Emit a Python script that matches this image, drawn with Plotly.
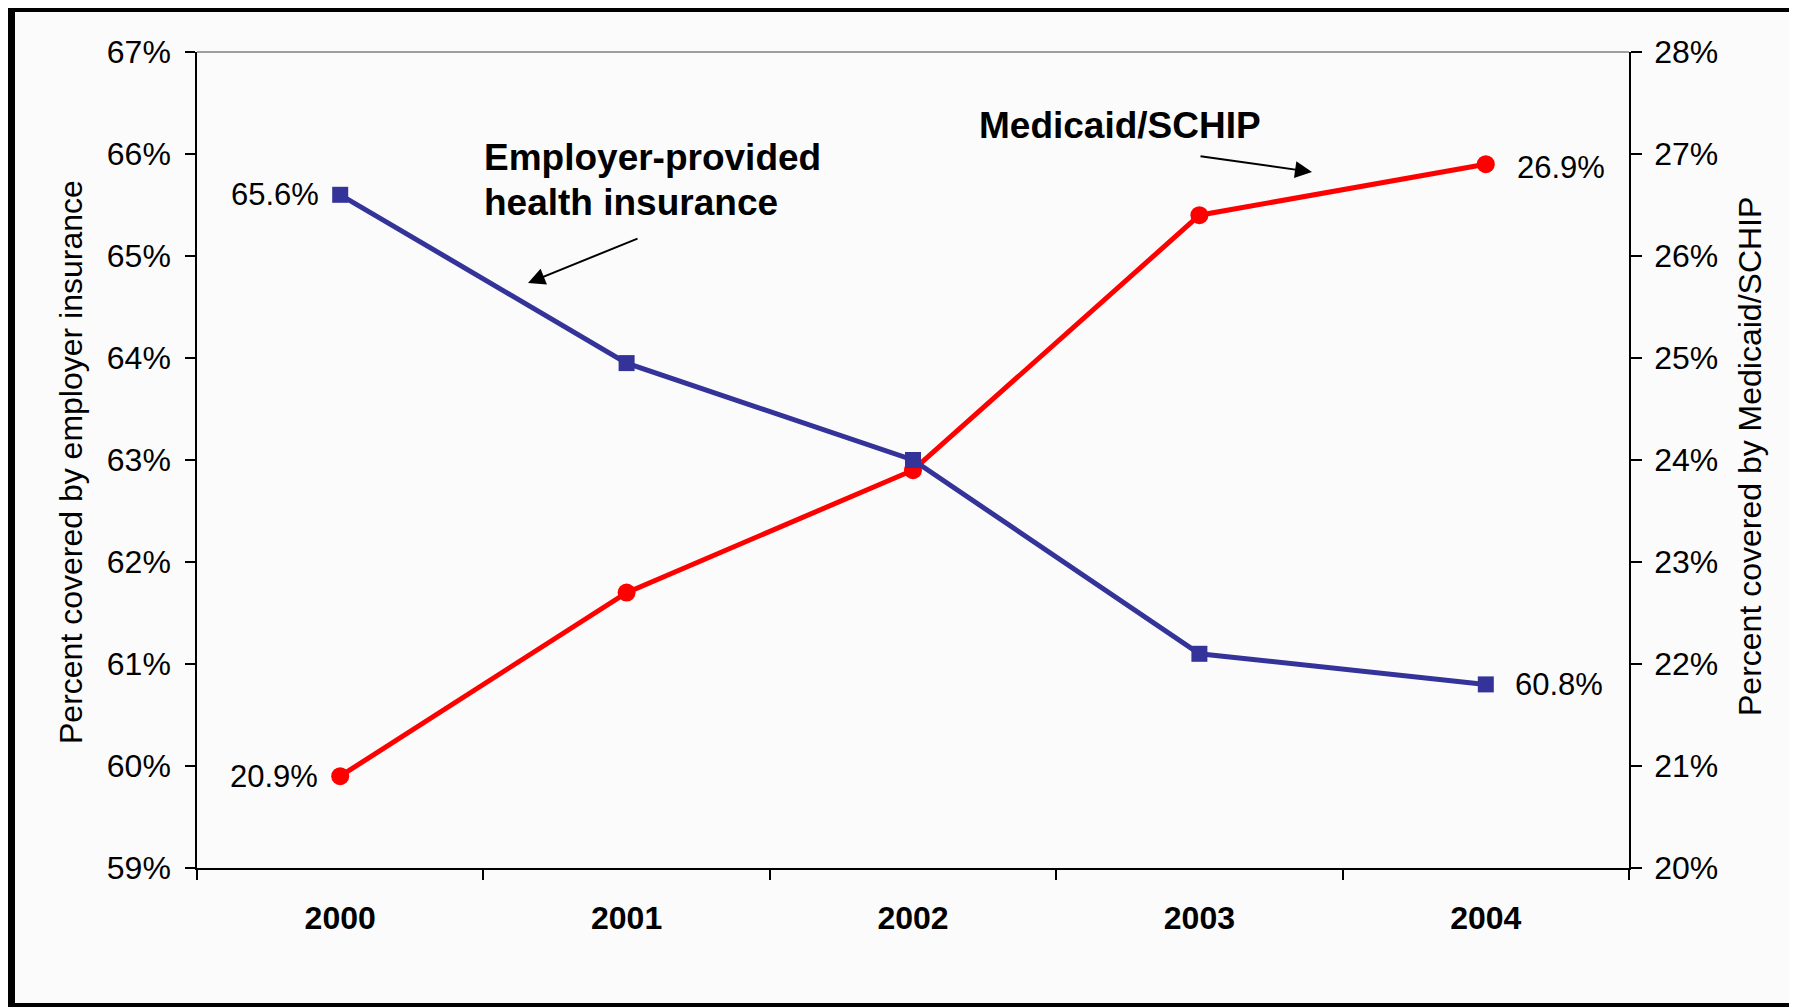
import plotly.graph_objects as go

years = ["2000", "2001", "2002", "2003", "2004"]
employer = [65.6, 63.95, 63.0, 61.1, 60.8]
medicaid = [20.9, 22.7, 23.9, 26.4, 26.9]
left_ticks = [59, 60, 61, 62, 63, 64, 65, 66, 67]
right_ticks = [20, 21, 22, 23, 24, 25, 26, 27, 28]

# the page body has an 8px margin, so the figure is sized to fit the window
OFF = 8
W, H = 1797 - OFF, 1007 - OFF
PW, PH = 1432, 816
L, T = 197 - OFF, 52 - OFF
R, B = W - L - PW, H - T - PH


def px(x):  # page pixel -> paper x
    return (x - OFF - L) / PW


def py(y):  # page pixel -> paper y
    return (H - B - (y - OFF)) / PH


FONT = "Liberation Sans, Arial, sans-serif"
BLUE = "#333399"
RED = "#FF0000"
BG = "#FBFBFB"

fig = go.Figure()

fig.add_trace(go.Scatter(
    x=years, y=medicaid, yaxis="y", mode="lines+markers",
    line=dict(color=RED, width=5),
    marker=dict(symbol="circle", size=18, color=RED),
    showlegend=False, hoverinfo="skip"))

fig.add_trace(go.Scatter(
    x=years, y=employer, yaxis="y2", mode="lines+markers",
    line=dict(color=BLUE, width=5),
    marker=dict(symbol="square", size=16, color=BLUE),
    showlegend=False, hoverinfo="skip"))

tickfont = dict(family=FONT, size=32, color="black")

fig.update_layout(
    width=W, height=H,
    margin=dict(l=L, r=R, t=T, b=B, pad=0),
    paper_bgcolor=BG, plot_bgcolor=BG,
    font=dict(family=FONT, color="black"),
    xaxis=dict(
        type="category", range=[-0.5, 4.5], tickson="boundaries",
        ticks="outside", ticklen=10, tickwidth=1.5, tickcolor="black",
        showline=True, linecolor="black", linewidth=1.5,
        showgrid=False, zeroline=False,
        tickfont=dict(family=FONT, size=32, color="black", weight="bold"),
        ticklabelstandoff=21,
    ),
    yaxis=dict(
        side="right", range=[20, 28], tickvals=right_ticks,
        ticktext=[f"{v}%" for v in right_ticks],
        ticks="outside", ticklen=11, tickwidth=1.5, tickcolor="black",
        showline=True, linecolor="black", linewidth=1.5,
        showgrid=False, zeroline=False, tickfont=tickfont,
        ticklabelstandoff=6,
    ),
    yaxis2=dict(
        side="left", overlaying="y", range=[59, 67], tickvals=left_ticks,
        ticktext=[f"{v}%" for v in left_ticks],
        ticks="outside", ticklen=10, tickwidth=1.5, tickcolor="black",
        showline=True, linecolor="black", linewidth=1.5,
        showgrid=False, zeroline=False, tickfont=tickfont,
        ticklabelstandoff=8,
    ),
    yaxis3=dict(
        side="right", overlaying="y", range=[20, 28], tickvals=right_ticks,
        ticks="inside", ticklen=10, tickwidth=1.5, tickcolor="black",
        showticklabels=False, showline=False, showgrid=False, zeroline=False,
    ),
)

shapes = [
    # top border of plot area (gray)
    dict(type="line", xref="paper", yref="paper", x0=0, x1=1, y0=1, y1=1,
         line=dict(color="#808080", width=1.5)),
    # outer frame
    dict(type="rect", xref="paper", yref="paper",
         x0=px(11), x1=px(1796), y0=py(1007), y1=py(8),
         line=dict(color="black", width=8), fillcolor="rgba(0,0,0,0)"),
]
fig.update_layout(shapes=shapes)

ann = []
lab = dict(family=FONT, size=31, color="black")
i0, i1 = 0, len(years) - 1
# data labels on end points
ann.append(dict(x=i0, y=employer[i0], xref="x", yref="y2", text=f"{employer[i0]:.1f}%",
                showarrow=False, xanchor="right", yanchor="middle", xshift=-19, font=lab))
ann.append(dict(x=i1, y=employer[i1], xref="x", yref="y2", text=f"{employer[i1]:.1f}%",
                showarrow=False, xanchor="left", yanchor="middle", xshift=27, font=lab))
ann.append(dict(x=i0, y=medicaid[i0], xref="x", yref="y", text=f"{medicaid[i0]:.1f}%",
                showarrow=False, xanchor="right", yanchor="middle", xshift=-20, font=lab))
ann.append(dict(x=i1, y=medicaid[i1], xref="x", yref="y", text=f"{medicaid[i1]:.1f}%",
                showarrow=False, xanchor="left", yanchor="middle", xshift=29, yshift=-3, font=lab))

bold = dict(family=FONT, size=37, color="black", weight="bold")
ann.append(dict(x=px(482), y=py(157), xref="paper", yref="paper",
                text="Employer-provided", showarrow=False,
                xanchor="left", yanchor="middle", align="left", font=bold))
ann.append(dict(x=px(482), y=py(202), xref="paper", yref="paper",
                text="health insurance", showarrow=False,
                xanchor="left", yanchor="middle", align="left", font=bold))
ann.append(dict(x=px(1120), y=py(125), xref="paper", yref="paper",
                text="Medicaid/SCHIP", showarrow=False,
                xanchor="center", yanchor="middle", font=bold))
# arrows
ann.append(dict(x=px(528), y=py(283), xref="paper", yref="paper", text="",
                showarrow=True, ax=111, ay=-45, arrowhead=2, arrowsize=1.7,
                arrowwidth=2, arrowcolor="black"))
ann.append(dict(x=px(1312), y=py(172), xref="paper", yref="paper", text="",
                showarrow=True, ax=-113, ay=-16, arrowhead=2, arrowsize=1.7,
                arrowwidth=2, arrowcolor="black"))
# axis titles
ttl = dict(family=FONT, size=32, color="black")
ann.append(dict(x=px(71), y=py(462), xref="paper", yref="paper",
                text="Percent covered by employer insurance", textangle=-90,
                showarrow=False, xanchor="center", yanchor="middle", font=ttl))
ann.append(dict(x=px(1750), y=py(457), xref="paper", yref="paper",
                text="Percent covered by Medicaid/SCHIP", textangle=-90,
                showarrow=False, xanchor="center", yanchor="middle", font=ttl))

fig.update_layout(annotations=ann)

fig.write_html("out.html")
